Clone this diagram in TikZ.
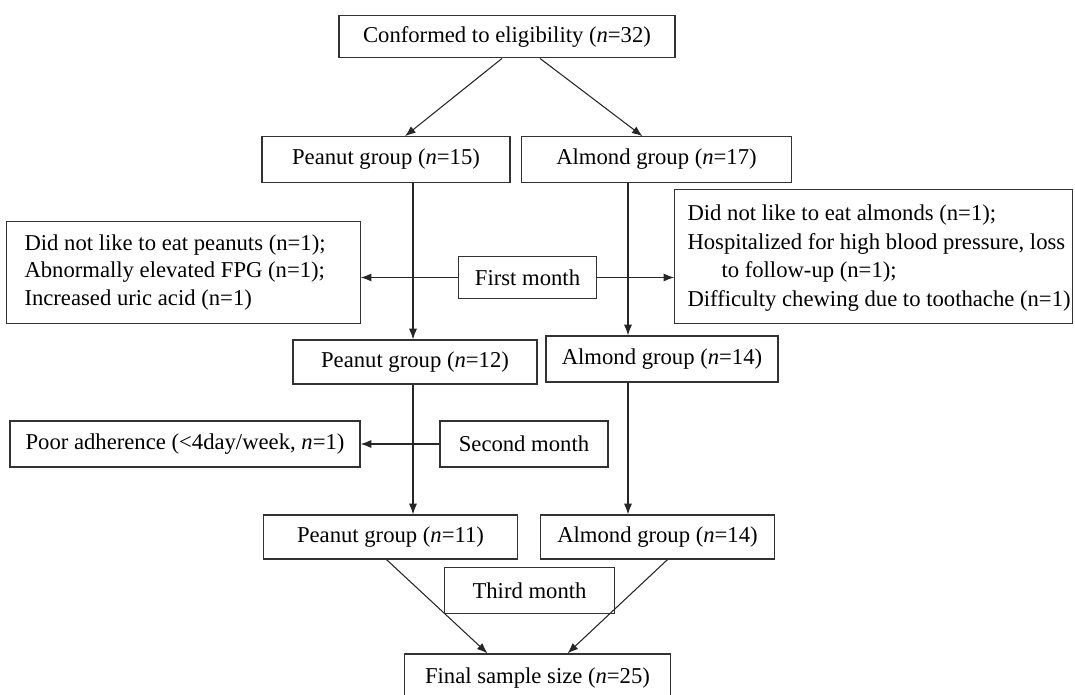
\documentclass[tikz,border=0pt]{standalone}
\usepackage{fontspec}
\setmainfont{Liberation Serif}
\usetikzlibrary{calc,arrows.meta}
\begin{document}
\begin{tikzpicture}[x=0.75pt,y=-0.75pt,
 box/.style={draw=black!80,line width=0.9pt,inner sep=0pt,font=\fontsize{17}{20.5}\selectfont},
 txt/.style={inner sep=0pt,align=left,anchor=west},
 arr/.style={draw=black!85,line width=0.8pt,-{Latex[length=8pt,width=6pt]}},
 ln/.style={draw=black!85,line width=0.8pt}]
\useasboundingbox (0,0) rectangle (1075,695);
\clip (0,0) rectangle (1075,695);
\node[box,minimum width=252pt,minimum height=32pt] (conf) at (507,36.5) {Conformed to eligibility (\textit{n}=32)};
\node[box,minimum width=186pt,minimum height=34pt] (p15) at (386,159.5) {Peanut group (\textit{n}=15)};
\node[box,minimum width=202pt,minimum height=34pt] (a17) at (656.5,159.5) {Almond group (\textit{n}=17)};
\node[box,minimum width=265pt,minimum height=76pt] (ex1) at (183.5,272.5) {};
\node[txt,font=\fontsize{17}{20.5}\selectfont] (ex1t) at ($(ex1.west)+(18,0)$) {Did not like to eat peanuts (n=1);\\Abnormally elevated FPG (n=1);\\Increased uric acid (n=1)};
\node[box,minimum width=104pt,minimum height=32pt] (fm) at (527.5,277.5) {First month};
\node[box,minimum width=298pt,minimum height=100pt] (ex2) at (873.5,256.5) {};
\node[txt,font=\fontsize{17}{21.5}\selectfont] (ex2t) at ($(ex2.west)+(13,1.5)$) {Did not like to eat almonds (n=1);\\Hospitalized for high blood pressure, loss\\\hspace*{25.5pt}to follow-up (n=1);\\Difficulty chewing due to toothache (n=1)};
\node[box,minimum width=183pt,minimum height=33pt] (p12) at (415,362) {Peanut group (\textit{n}=12)};
\node[box,minimum width=174pt,minimum height=34.5pt] (a14) at (662,359) {Almond group (\textit{n}=14)};
\node[box,minimum width=262.5pt,minimum height=34.5pt] (poor) at (185,444) {Poor adherence (<4day/week, \textit{n}=1)};
\node[box,minimum width=126pt,minimum height=34.5pt] (sm) at (524,444) {Second month};
\node[box,minimum width=191pt,minimum height=33pt] (p11) at (390.5,537) {Peanut group (\textit{n}=11)};
\node[box,minimum width=176pt,minimum height=33pt] (a14b) at (657.5,537) {Almond group (\textit{n}=14)};
\node[box,minimum width=127pt,minimum height=34pt] (tm) at (529.5,590.5) {Third month};
\node[box,minimum width=200pt,minimum height=36pt] (fin) at (537.5,678) {Final sample size (\textit{n}=25)};
% connectors
\draw[arr] ($(conf.south)+(-5,0)$) -- ($(p15.north)+(19,0)$);
\draw[arr] ($(conf.south)+(33,0)$) -- ($(a17.north)+(-14,0)$);
\draw[arr] ($(p15.south)+(27,0)$) coordinate (pl1) -- (pl1 |- p12.north);
\draw[arr] ($(a17.south)+(-28.5,0)$) coordinate (al1) -- (al1 |- a14.north);
\draw[arr] (fm.west) -- (fm.west -| ex1.east);
\draw[arr] (fm.east) -- (fm.east -| ex2.west);
\draw[arr] ($(p12.south)+(-2,0)$) coordinate (pl2) -- (pl2 |- p11.north);
\draw[arr] ($(a14.south)+(-34,0)$) coordinate (al2) -- (al2 |- a14b.north);
\draw[arr] (sm.west) -- (sm.west -| poor.east);
\draw[ln] ($(sm.east)+(0,4)$) -- ($(sm.east)+(0,4)$ -| al2);
\draw[arr] ($(p11.south)+(-4,0)$) -- ($(fin.north)+(-50,0)$);
\draw[arr] ($(a14b.south)+(10,0)$) -- ($(fin.north)+(30,0)$);
\end{tikzpicture}
\end{document}
